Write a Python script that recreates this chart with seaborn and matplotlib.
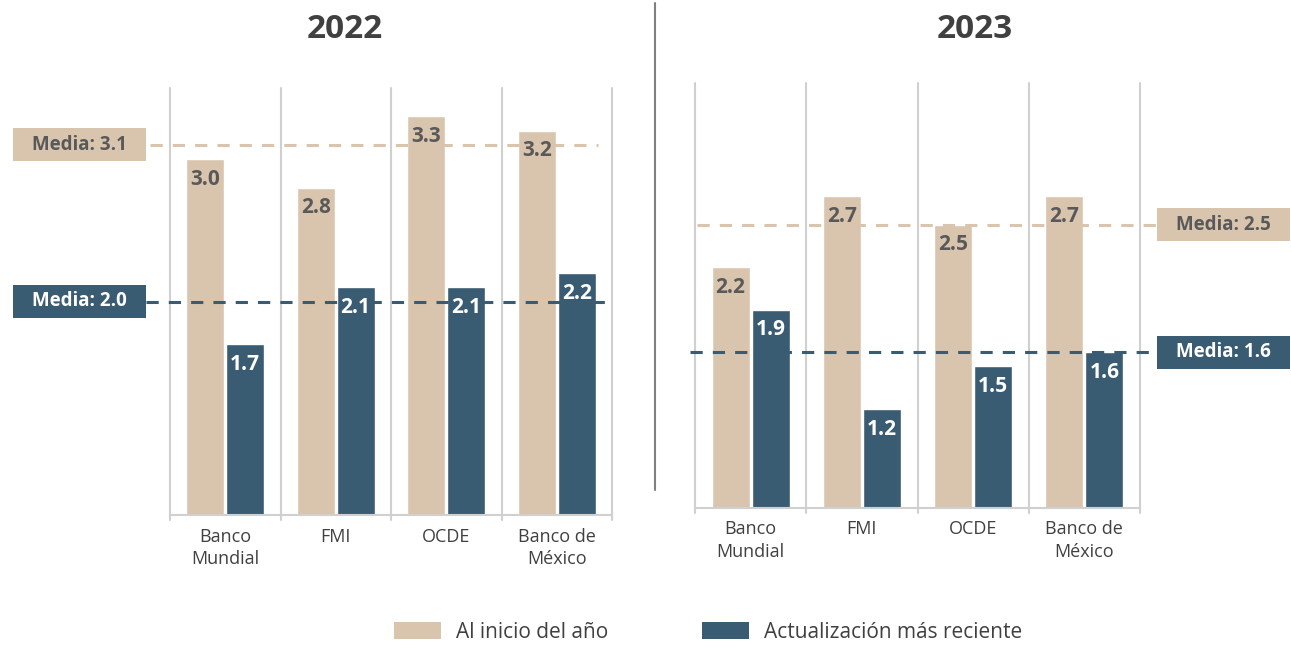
import pandas as pd
import matplotlib.pyplot as plt
import seaborn as sns
from matplotlib.patches import Patch, Rectangle
from matplotlib.lines import Line2D

instituciones = ['Banco\nMundial', 'FMI', 'OCDE', 'Banco de\nMéxico']
series = ['Al inicio del año', 'Actualización más reciente']
inicio_2022 = [3.0, 2.8, 3.3, 3.2]
reciente_2022 = [1.7, 2.1, 2.1, 2.2]
inicio_2023 = [2.2, 2.7, 2.5, 2.7]
reciente_2023 = [1.9, 1.2, 1.5, 1.6]
media_2022 = [3.1, 2.0]
media_2023 = [2.5, 1.6]

BEIGE = '#D9C5AE'
AZUL = '#3A5C73'
GRIS = '#595959'
colores = {series[0]: BEIGE, series[1]: AZUL}

sns.set_style('white')
plt.rcParams['font.family'] = ['Open Sans', 'DejaVu Sans']

W, H = 1291, 645
fig = plt.figure(figsize=(W / 100, H / 100), dpi=100)
ax1 = fig.add_axes([170 / W, 130 / H, 442 / W, 427 / H])
ax2 = fig.add_axes([695 / W, 137 / H, 445 / W, 425 / H])


def tabla(inicio, reciente):
    return pd.DataFrame({
        'inst': instituciones * 2,
        'serie': [series[0]] * 4 + [series[1]] * 4,
        'valor': inicio + reciente,
    })


def panel(ax, df, medias, lado):
    sns.barplot(data=df, x='inst', y='valor', hue='serie', palette=colores,
                width=0.72, gap=0.05, legend=False, ax=ax, saturation=1)
    ax.set_ylim(0.5, 3.5)
    ax.set_xlim(-0.5, 3.5)
    ax.set_xlabel('')
    ax.set_ylabel('')
    ax.set_yticks([])
    for s in ['left', 'right', 'top']:
        ax.spines[s].set_visible(False)
    ax.spines['bottom'].set_color('#D0D0D0')
    ax.spines['bottom'].set_linewidth(1.5)
    ax.tick_params(axis='x', length=0, pad=9, labelsize=13, labelcolor='#404040')
    for lab in ax.get_xticklabels():
        lab.set_linespacing(1.3)
    for xs in [-0.5, 0.5, 1.5, 2.5, 3.5]:
        ax.plot([xs, xs], [-0.012, 1], color='#D0D0D0', lw=1.5,
                transform=ax.get_xaxis_transform(), clip_on=False, zorder=0)
    # etiquetas de valor
    for cont, col in zip(ax.containers, [GRIS, 'white']):
        for bar in cont:
            v = bar.get_height()
            ax.annotate(f'{v:.1f}', (bar.get_x() + bar.get_width() / 2, v),
                        xytext=(0, -7), textcoords='offset points',
                        ha='center', va='top', fontsize=15, fontweight='bold', color=col)
    # lineas de media
    for m, col, tc in zip(medias, [BEIGE, AZUL], [GRIS, 'white']):
        if lado == 'izq':
            x0, x1 = (-0.045, 0.968) if col == BEIGE else (-0.054, 1.0)
        else:
            x0, x1 = (0.005, 1.038) if col == BEIGE else (-0.011, 1.038)
        ax.axhline(m, xmin=x0, xmax=x1, color=col, lw=2.2, dashes=(4, 3.3),
                   clip_on=False, zorder=1)
        yf = fig.transFigure.inverted().transform(ax.transData.transform((0, m)))[1]
        bx = 13 / W if lado == 'izq' else 1157 / W
        bw = 133 / W
        bh = 33 / H
        fig.add_artist(Rectangle((bx, yf - bh / 2), bw, bh, transform=fig.transFigure,
                                 facecolor=col, edgecolor='none'))
        fig.text(bx + bw / 2, yf, f'Media: {m:.1f}', ha='center', va='center',
                 fontsize=13.5, fontweight='bold', color=tc)


panel(ax1, tabla(inicio_2022, reciente_2022), media_2022, 'izq')
panel(ax2, tabla(inicio_2023, reciente_2023), media_2023, 'der')

fig.text(345 / W, 1 - 30 / H, '2022', ha='center', va='center',
         fontsize=24, fontweight='bold', color='#404040')
fig.text(975 / W, 1 - 30 / H, '2023', ha='center', va='center',
         fontsize=24, fontweight='bold', color='#404040')

fig.add_artist(Line2D([655 / W, 655 / W], [1 - 3 / H, 1 - 490 / H],
                      transform=fig.transFigure, color='#808080', lw=1.5))

handles = [Patch(facecolor=colores[s], edgecolor='none') for s in series]
fig.legend(handles, series, loc='center', bbox_to_anchor=(708 / W, 1 - 632 / H),
           ncol=2, frameon=False, fontsize=15, labelcolor='#404040',
           handlelength=2.25, handleheight=0.87, handletextpad=0.72, columnspacing=4.5)

plt.savefig('out.png', dpi=100)
